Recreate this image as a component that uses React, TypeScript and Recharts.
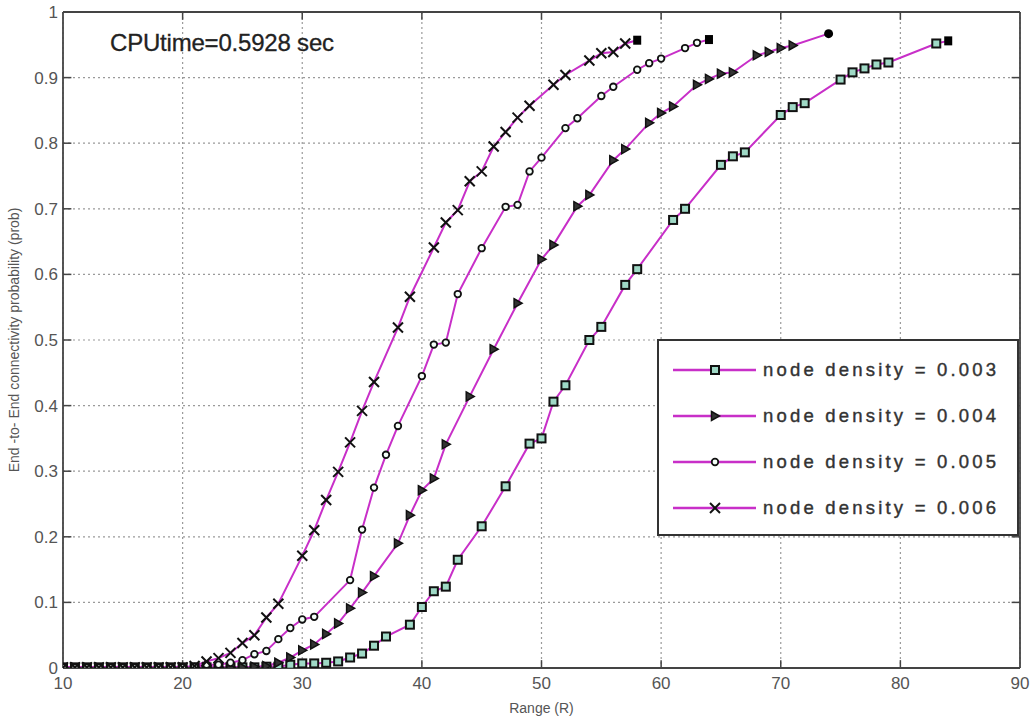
import React from 'react';
import { LineChart, Line, XAxis, YAxis, CartesianGrid, ReferenceLine } from 'recharts';

// ---- data ----
const xTicks = [10, 20, 30, 40, 50, 60, 70, 80, 90];
const yTicks = [0, 0.1, 0.2, 0.3, 0.4, 0.5, 0.6, 0.7, 0.8, 0.9, 1];

const range003 = [10, 11, 12, 13, 14, 15, 16, 17, 18, 19, 20, 21, 22, 23, 24, 25, 26, 27, 28, 29, 30, 31, 32, 33, 34, 35, 36, 37, 39, 40, 41, 42, 43, 45, 47, 49, 50, 51, 52, 54, 55, 57, 58, 61, 62, 65, 66, 67, 70, 71, 72, 75, 76, 77, 78, 79, 83, 84];
const prob003 = [0.001, 0.001, 0.001, 0.001, 0.001, 0.001, 0.001, 0.001, 0.001, 0.001, 0.001, 0.001, 0.001, 0.001, 0.001, 0.001, 0.001, 0.002, 0.002, 0.005, 0.007, 0.007, 0.008, 0.01, 0.016, 0.022, 0.034, 0.048, 0.066, 0.093, 0.117, 0.124, 0.165, 0.216, 0.277, 0.342, 0.35, 0.406, 0.431, 0.5, 0.52, 0.584, 0.608, 0.683, 0.7, 0.767, 0.78, 0.786, 0.843, 0.855, 0.861, 0.897, 0.908, 0.914, 0.92, 0.923, 0.952, 0.956];

const range004 = [10, 11, 12, 13, 14, 15, 16, 17, 18, 19, 20, 21, 22, 23, 24, 25, 26, 27, 28, 29, 30, 31, 32, 33, 34, 35, 36, 38, 39, 40, 41, 42, 44, 46, 48, 50, 51, 53, 54, 56, 57, 59, 60, 61, 63, 64, 65, 66, 68, 69, 70, 71, 74];
const prob004 = [0.001, 0.001, 0.001, 0.001, 0.001, 0.001, 0.001, 0.001, 0.001, 0.001, 0.001, 0.001, 0.001, 0.001, 0.001, 0.001, 0.002, 0.003, 0.008, 0.016, 0.027, 0.036, 0.052, 0.068, 0.091, 0.115, 0.14, 0.19, 0.233, 0.271, 0.289, 0.341, 0.414, 0.486, 0.556, 0.623, 0.645, 0.704, 0.721, 0.774, 0.791, 0.831, 0.846, 0.856, 0.889, 0.898, 0.906, 0.908, 0.934, 0.939, 0.945, 0.949, 0.967];

const range005 = [10, 11, 12, 13, 14, 15, 16, 17, 18, 19, 20, 21, 22, 23, 24, 25, 26, 27, 28, 29, 30, 31, 34, 35, 36, 37, 38, 40, 41, 42, 43, 45, 47, 48, 49, 50, 52, 53, 55, 56, 58, 59, 60, 62, 63, 64];
const prob005 = [0.001, 0.001, 0.001, 0.001, 0.001, 0.001, 0.001, 0.001, 0.001, 0.001, 0.001, 0.002, 0.005, 0.005, 0.008, 0.012, 0.021, 0.026, 0.044, 0.061, 0.074, 0.078, 0.134, 0.211, 0.275, 0.325, 0.369, 0.445, 0.493, 0.496, 0.57, 0.64, 0.703, 0.706, 0.757, 0.778, 0.823, 0.838, 0.872, 0.886, 0.912, 0.922, 0.929, 0.945, 0.953, 0.958];

const range006 = [10, 11, 12, 13, 14, 15, 16, 17, 18, 19, 20, 21, 22, 23, 24, 25, 26, 27, 28, 30, 31, 32, 33, 34, 35, 36, 38, 39, 41, 42, 43, 44, 45, 46, 47, 48, 49, 51, 52, 54, 55, 56, 57, 58];
const prob006 = [0.001, 0.001, 0.001, 0.001, 0.001, 0.001, 0.001, 0.001, 0.001, 0.001, 0.001, 0.003, 0.01, 0.015, 0.023, 0.038, 0.05, 0.077, 0.098, 0.171, 0.21, 0.256, 0.299, 0.344, 0.392, 0.436, 0.519, 0.566, 0.641, 0.679, 0.698, 0.742, 0.757, 0.795, 0.817, 0.839, 0.857, 0.889, 0.904, 0.926, 0.937, 0.939, 0.952, 0.957];

const seriesNames = ['node density = 0.003', 'node density = 0.004', 'node density = 0.005', 'node density = 0.006'];
const markerKinds = ['square', 'triangle', 'circle', 'cross'];

const toPoints = (xs: number[], ys: number[]) => xs.map((x, i) => ({ x, y: ys[i] }));
const data003 = toPoints(range003, prob003);
const data004 = toPoints(range004, prob004);
const data005 = toPoints(range005, prob005);
const data006 = toPoints(range006, prob006);
const allData = [data003, data004, data005, data006];

// ---- style ----
const LINE = '#c82fc8';
const SQUARE_FILL = '#9fd9c6';
const FONT = '"Liberation Sans", Arial, sans-serif';

function marker(kind: string, cx: number, cy: number, key?: any, last?: boolean) {
  if (last) {
    if (kind === 'triangle') return <circle key={key} cx={cx} cy={cy} r={4.5} fill="#000" />;
    return <rect key={key} x={cx - 4} y={cy - 4.5} width={8} height={9} fill="#000" />;
  }
  if (kind === 'square')
    return <rect key={key} x={cx - 4} y={cy - 4} width={8} height={8} fill={SQUARE_FILL} stroke="#111" strokeWidth={2} />;
  if (kind === 'triangle')
    return (
      <polygon key={key} points={`${cx - 3.5},${cy - 4.5} ${cx + 4.5},${cy} ${cx - 3.5},${cy + 4.5}`} fill="#333" stroke="#111" strokeWidth={1.5} />
    );
  if (kind === 'circle')
    return <circle key={key} cx={cx} cy={cy} r={3.3} fill="#f4fff8" stroke="#111" strokeWidth={1.8} />;
  return (
    <g key={key} stroke="#111" strokeWidth={2}>
      <line x1={cx - 5} y1={cy - 5} x2={cx + 5} y2={cy + 5} />
      <line x1={cx - 5} y1={cy + 5} x2={cx + 5} y2={cy - 5} />
    </g>
  );
}

const makeDot = (kind: string, len: number) => (props: any) => {
  const { cx, cy, index } = props;
  if (cx == null || cy == null) return <g key={`e-${index}`} />;
  return marker(kind, cx, cy, `${kind}-${index}`, index === len - 1);
};

const LegendBox = () => (
  <div
    style={{
      position: 'absolute',
      left: 657,
      top: 339,
      width: 358,
      height: 193,
      border: '2px solid #333',
      background: '#fff',
    }}
  >
    {seriesNames.map((name, i) => (
      <div key={name} style={{ position: 'absolute', left: 0, top: 12 + i * 46, height: 34, display: 'flex', alignItems: 'center' }}>
        <svg width={100} height={34} style={{ display: 'block' }}>
          <line x1={14} y1={17} x2={97} y2={17} stroke={LINE} strokeWidth={2.5} />
          {marker(markerKinds[i], 56, 17)}
        </svg>
        <span
          style={{
            fontFamily: FONT,
            fontSize: 18.5,
            letterSpacing: 3.2,
            color: '#333',
            marginLeft: 4,
            whiteSpace: 'nowrap',
            WebkitTextStroke: '0.4px #333',
          }}
        >
          {name}
        </span>
      </div>
    ))}
  </div>
);

export default function App() {
  return (
    <div style={{ position: 'absolute', left: 0, top: 0, width: 1035, height: 722, background: '#fff' }}>
      <LineChart width={1035} height={722} margin={{ top: 12, right: 15, left: 0, bottom: 0 }}>
        <CartesianGrid stroke="#9a9a9a" strokeDasharray="2 3" strokeWidth={1.2} />
        <XAxis
          type="number"
          dataKey="x"
          domain={[10, 90]}
          ticks={xTicks}
          allowDataOverflow
          height={54}
          tickSize={0}
          tickMargin={9}
          axisLine={{ stroke: '#444', strokeWidth: 1.8 }}
          tick={{ fill: '#555', fontSize: 17, fontFamily: FONT }}
          label={{ value: 'Range (R)', position: 'insideBottom', offset: 9, fill: '#555', fontSize: 14, fontFamily: FONT }}
        />
        <YAxis
          type="number"
          domain={[0, 1]}
          ticks={yTicks}
          allowDataOverflow
          width={63}
          tickSize={0}
          tickMargin={5}
          axisLine={{ stroke: '#444', strokeWidth: 1.8 }}
          tick={{ fill: '#555', fontSize: 17, fontFamily: FONT }}
          label={{
            value: 'End -to- End connectivity probability (prob)',
            angle: -90,
            position: 'insideLeft',
            offset: 14,
            style: { textAnchor: 'middle' },
            fill: '#555',
            fontSize: 14,
            fontFamily: FONT,
          }}
        />
        <ReferenceLine y={1} stroke="#444" strokeWidth={1.8} />
        <ReferenceLine x={90} stroke="#444" strokeWidth={1.8} />
        {xTicks.slice(1, -1).map((t) => (
          <ReferenceLine key={`bt${t}`} segment={[{ x: t, y: 0 }, { x: t, y: 0.012 }]} stroke="#444" strokeWidth={1.5} />
        ))}
        {xTicks.slice(1, -1).map((t) => (
          <ReferenceLine key={`tt${t}`} segment={[{ x: t, y: 1 }, { x: t, y: 0.988 }]} stroke="#444" strokeWidth={1.5} />
        ))}
        {yTicks.slice(1, -1).map((t) => (
          <ReferenceLine key={`lt${t}`} segment={[{ x: 10, y: t }, { x: 10.7, y: t }]} stroke="#444" strokeWidth={1.5} />
        ))}
        {yTicks.slice(1, -1).map((t) => (
          <ReferenceLine key={`rt${t}`} segment={[{ x: 90, y: t }, { x: 89.3, y: t }]} stroke="#444" strokeWidth={1.5} />
        ))}
        {allData.map((d, i) => (
          <Line
            key={seriesNames[i]}
            data={d}
            dataKey="y"
            name={seriesNames[i]}
            type="linear"
            stroke={LINE}
            strokeWidth={2}
            dot={makeDot(markerKinds[i], d.length)}
            activeDot={false}
            isAnimationActive={false}
          />
        ))}
      </LineChart>
      <LegendBox />
      <div
        style={{
          position: 'absolute',
          left: 110,
          top: 29,
          fontFamily: FONT,
          fontSize: 24,
          letterSpacing: -0.2,
          color: '#222',
          whiteSpace: 'nowrap',
          WebkitTextStroke: '0.3px #222',
        }}
      >
        CPUtime=0.5928 sec
      </div>
    </div>
  );
}
